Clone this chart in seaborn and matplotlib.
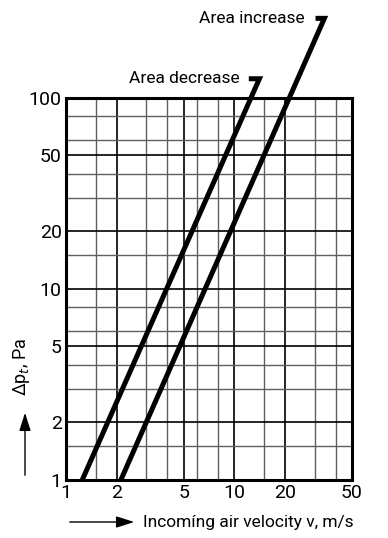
"""Pressure drop vs incoming air velocity (log-log chart)."""

import matplotlib
matplotlib.use("Agg")
import matplotlib.pyplot as plt
import seaborn as sns

# Data (Pa vs m/s), incl. the short leader cap at the top
decrease_v = [1.25, 14.1, 12.2]
decrease_dp = [1.0, 126.0, 126.0]
increase_v = [2.12, 34.3, 30.4]
increase_dp = [1.0, 261.0, 261.0]

x_ticks = [1, 2, 5, 10, 20, 50]
y_ticks = [1, 2, 5, 10, 20, 50, 100]
x_minor = [1.5, 3, 4, 6, 8, 15, 30, 40]
y_minor = [1.5, 3, 4, 6, 8, 15, 30, 40, 60, 80]

sns.set_style("white")
plt.rcParams["font.family"] = ["Roboto", "DejaVu Sans"]
plt.rcParams["text.color"] = "black"

fig = plt.figure(figsize=(3.88, 5.38), dpi=100)
ax = fig.add_axes([0.170, 0.108, 0.737, 0.710])

ax.set_xscale("log")
ax.set_yscale("log")
ax.set_xlim(1, 50)
ax.set_ylim(1, 100)

# grid
for v in x_ticks[1:-1]:
    ax.axvline(v, color="black", lw=1.2, zorder=1)
for v in x_minor:
    ax.axvline(v, color="#606060", lw=1.0, zorder=1)
for v in y_ticks[1:-1]:
    ax.axhline(v, color="black", lw=1.2, zorder=1)
for v in y_minor:
    ax.axhline(v, color="#606060", lw=1.0, zorder=1)

# the two curves
for vv, dp in [(decrease_v, decrease_dp), (increase_v, increase_dp)]:
    sns.lineplot(x=vv, y=dp, sort=False, estimator=None, color="black",
                 lw=3.6, ax=ax, clip_on=False, zorder=3,
                 solid_capstyle="butt", solid_joinstyle="miter")

ax.text(10.7, 126, "Area decrease", ha="right", va="center", fontsize=12.5)
ax.text(26.2, 261, "Area increase", ha="right", va="center", fontsize=12.5)

ax.set_xticks(x_ticks)
ax.set_xticklabels([str(t) for t in x_ticks])
ax.set_yticks(y_ticks)
ax.set_yticklabels([str(t) for t in y_ticks])
ax.minorticks_off()
ax.tick_params(length=0, labelsize=14, colors="black", pad=3)
ax.set_xlabel("")
ax.set_ylabel("")

for s in ax.spines.values():
    s.set_visible(True)
    s.set_color("black")
    s.set_linewidth(2.2)
    s.set_zorder(4)

# axis titles with arrows
fig.text(143 / 388, 1 - 522 / 538, "Incomíng air velocity v, m/s",
         ha="left", va="center", fontsize=12.5)
fig.text(22 / 388, 1 - 367 / 538, "Δp$_t$, Pa", rotation=90,
         ha="center", va="center", fontsize=13)
fig.patches.append(matplotlib.patches.FancyArrowPatch(
    (67 / 388, 1 - 522 / 538), (137 / 388, 1 - 522 / 538),
    transform=fig.transFigure, arrowstyle="-|>,head_length=1.1,head_width=0.35",
    mutation_scale=10, color="black", lw=1.0))
fig.patches.append(matplotlib.patches.FancyArrowPatch(
    (25 / 388, 1 - 478 / 538), (25 / 388, 1 - 410 / 538),
    transform=fig.transFigure, arrowstyle="-|>,head_length=1.1,head_width=0.35",
    mutation_scale=10, color="black", lw=1.0))

fig.savefig("out.png", dpi=100)
plt.close(fig)
